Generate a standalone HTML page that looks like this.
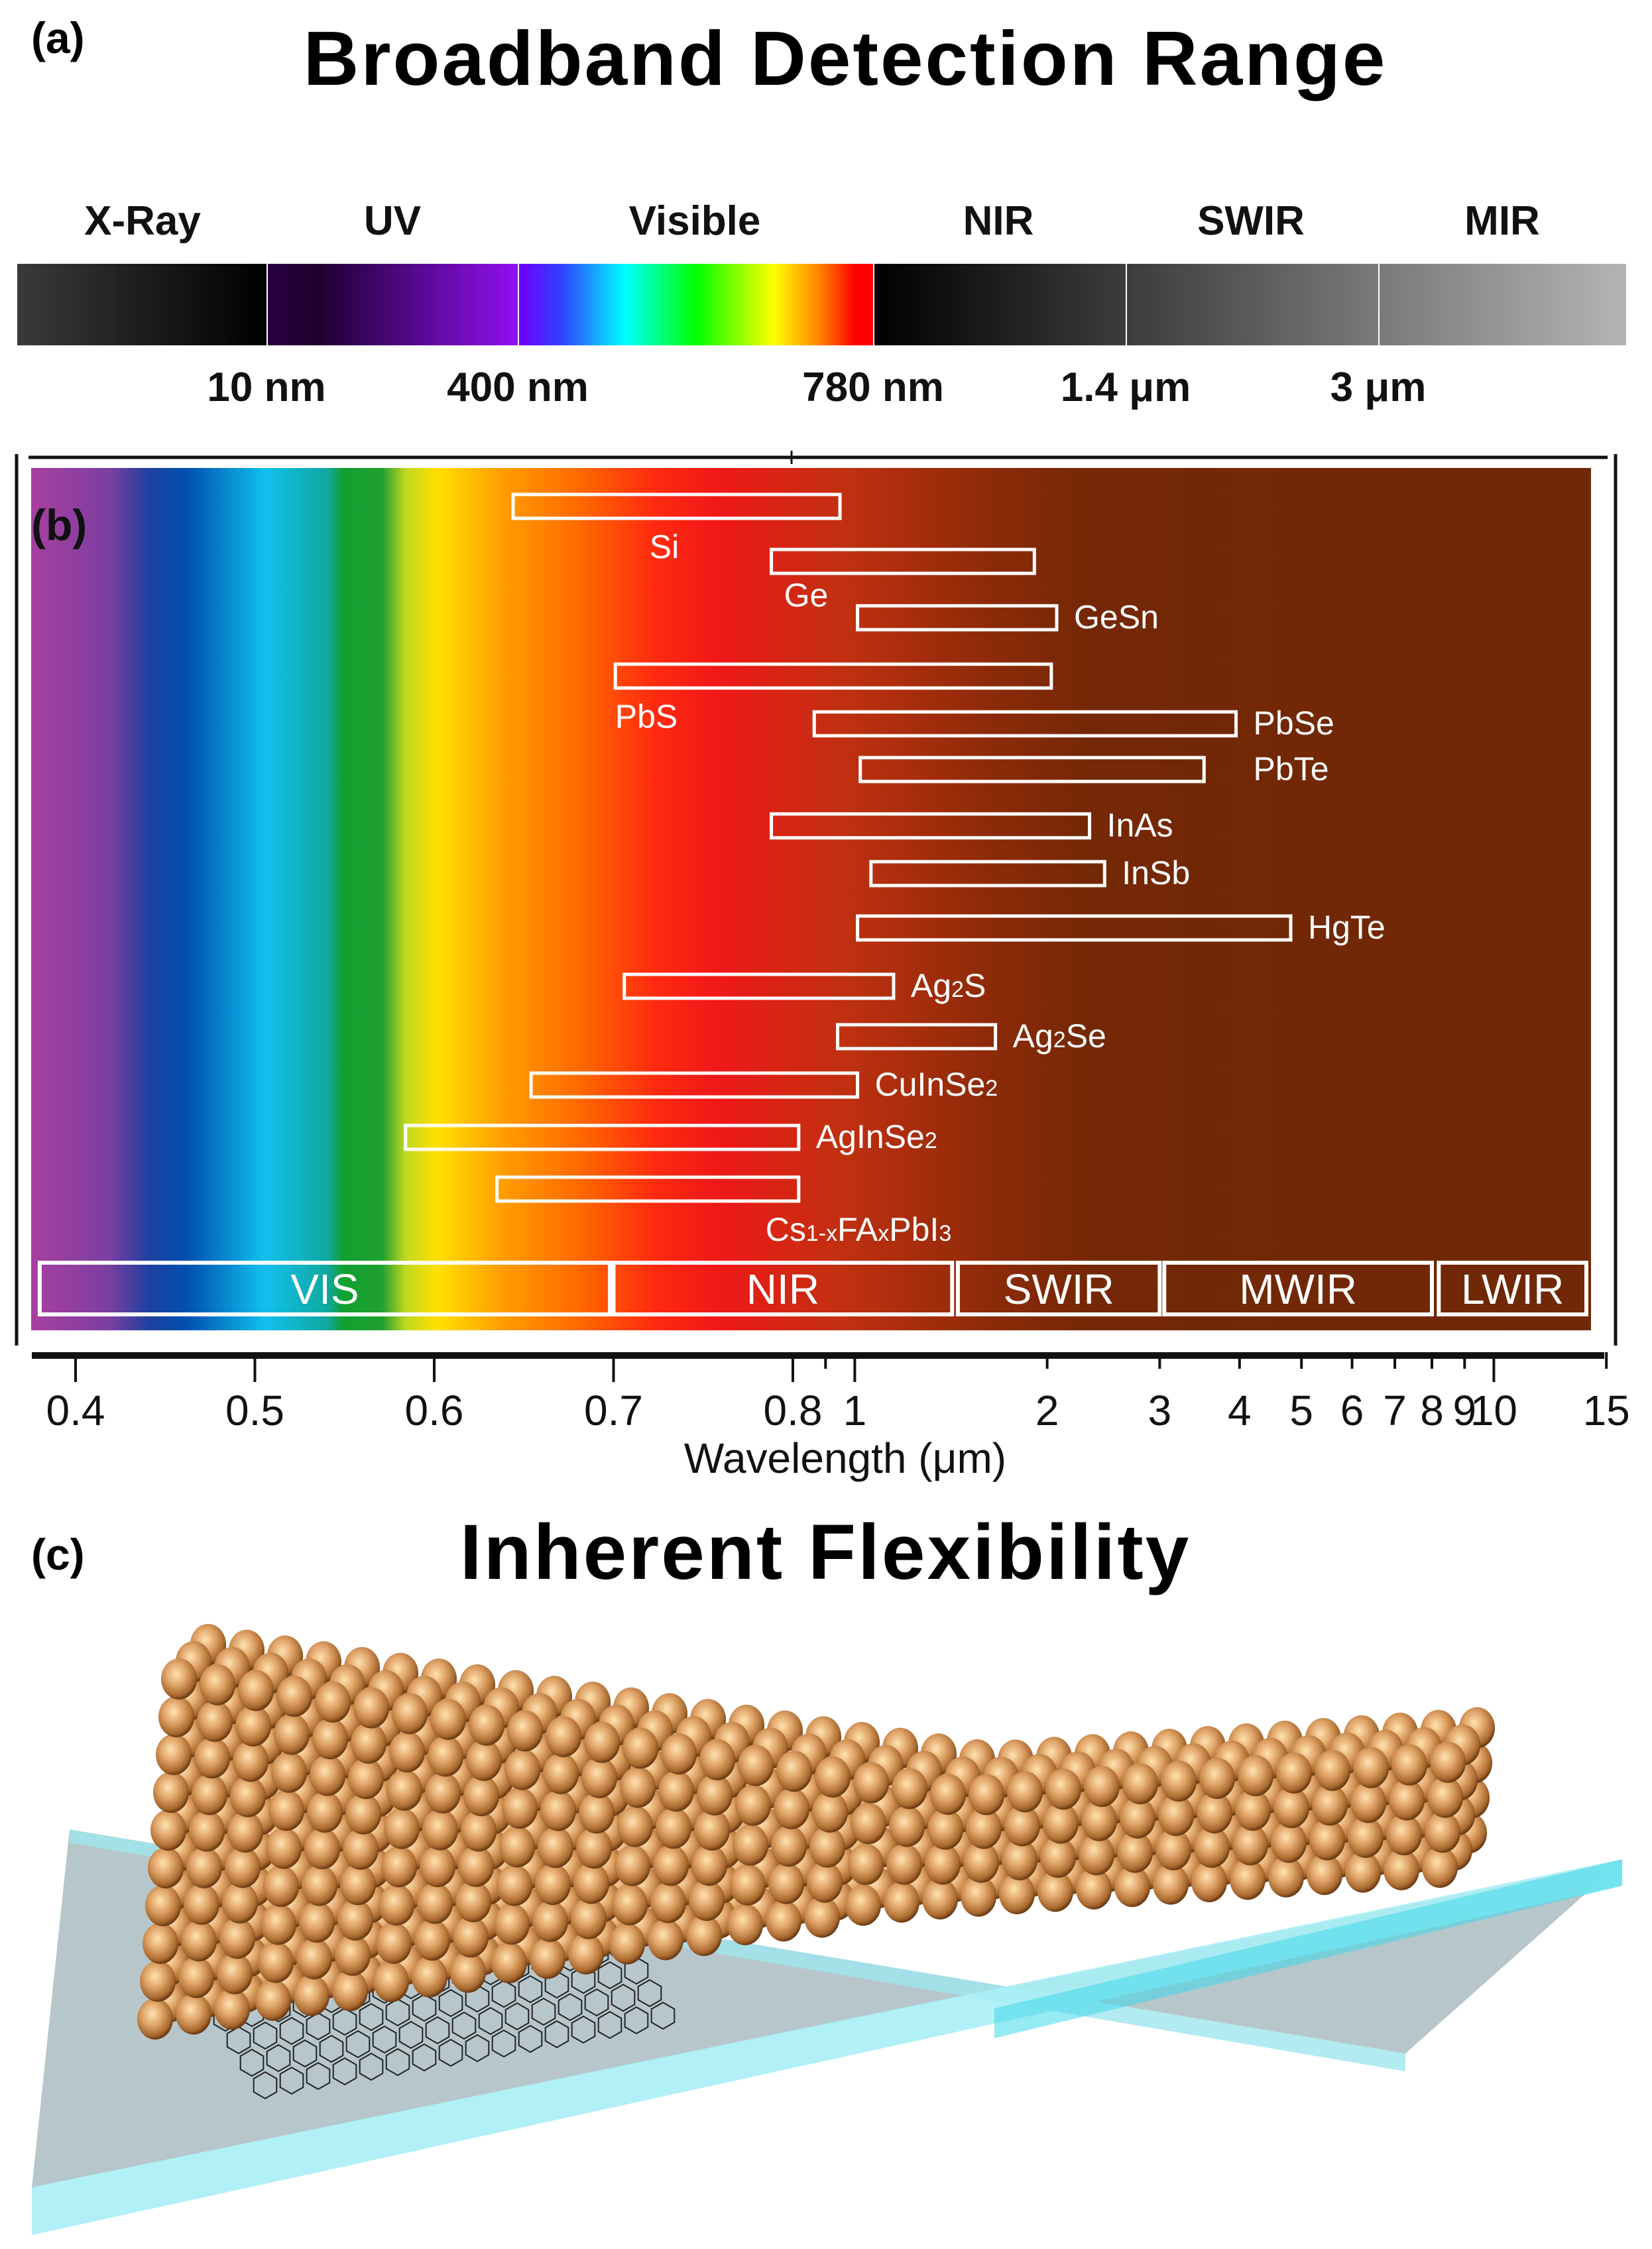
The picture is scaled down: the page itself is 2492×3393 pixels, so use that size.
<!DOCTYPE html>
<html><head><meta charset="utf-8">
<style>
body{margin:0;background:#fff;}
svg{display:block;font-family:"Liberation Sans","DejaVu Sans",sans-serif;}
</style></head>
<body>
<svg id="fig" width="2492" height="3393" viewBox="0 0 2492 3393" xmlns="http://www.w3.org/2000/svg">
<defs>
<linearGradient id="xray" x1="0" x2="1"><stop offset="0" stop-color="#3a3a3a"/><stop offset="1" stop-color="#000"/></linearGradient>
<linearGradient id="uv" x1="0" x2="1"><stop offset="0" stop-color="#2a0040"/><stop offset="0.2" stop-color="#200030"/><stop offset="1" stop-color="#9010f0"/></linearGradient>
<linearGradient id="vis" x1="0" x2="1"><stop offset="0" stop-color="#7000ff"/><stop offset="0.12" stop-color="#3040ff"/><stop offset="0.3" stop-color="#00ffff"/><stop offset="0.5" stop-color="#00ff00"/><stop offset="0.72" stop-color="#ffff00"/><stop offset="0.85" stop-color="#ff8000"/><stop offset="0.95" stop-color="#ff0000"/><stop offset="1" stop-color="#ff0000"/></linearGradient>
<linearGradient id="nir" x1="0" x2="1"><stop offset="0" stop-color="#000"/><stop offset="1" stop-color="#3c3c3c"/></linearGradient>
<linearGradient id="swir" x1="0" x2="1"><stop offset="0" stop-color="#3c3c3c"/><stop offset="1" stop-color="#7a7a7a"/></linearGradient>
<linearGradient id="mir" x1="0" x2="1"><stop offset="0" stop-color="#7a7a7a"/><stop offset="1" stop-color="#b4b4b4"/></linearGradient>
<linearGradient id="spec" gradientUnits="userSpaceOnUse" x1="47" x2="2400" y1="0" y2="0">
<stop offset="0" stop-color="#a93fa0"/><stop offset="0.05" stop-color="#7a3fa0"/><stop offset="0.075" stop-color="#2040a0"/><stop offset="0.1" stop-color="#0050b0"/><stop offset="0.15" stop-color="#10c0ee"/><stop offset="0.19" stop-color="#10a8a0"/><stop offset="0.2" stop-color="#10a030"/><stop offset="0.225" stop-color="#20a030"/><stop offset="0.24" stop-color="#c0d820"/><stop offset="0.26" stop-color="#ffe000"/><stop offset="0.3" stop-color="#ffa000"/><stop offset="0.35" stop-color="#ff6a00"/><stop offset="0.4" stop-color="#ff2a10"/><stop offset="0.44" stop-color="#f01818"/><stop offset="0.52" stop-color="#c03010"/><stop offset="0.62" stop-color="#8a2a08"/><stop offset="0.68" stop-color="#742805"/><stop offset="1" stop-color="#702806"/></linearGradient>
<radialGradient id="ball" cx="0.42" cy="0.38" r="0.62"><stop offset="0" stop-color="#ffe2b0"/><stop offset="0.45" stop-color="#e0a468"/><stop offset="0.85" stop-color="#a8682e"/><stop offset="1" stop-color="#6a3a14"/></radialGradient>
</defs>

<!-- panel a -->
<text x="47" y="80" font-size="66" font-weight="bold">(a)</text>
<text x="1275" y="128" font-size="116" font-weight="bold" letter-spacing="3" text-anchor="middle">Broadband Detection Range</text>
<g>
<rect x="26" y="398" width="376" height="123" fill="url(#xray)"/>
<rect x="404" y="398" width="377" height="123" fill="url(#uv)"/>
<rect x="783" y="398" width="534" height="123" fill="url(#vis)"/>
<rect x="1319" y="398" width="379" height="123" fill="url(#nir)"/>
<rect x="1700" y="398" width="379" height="123" fill="url(#swir)"/>
<rect x="2081" y="398" width="372" height="123" fill="url(#mir)"/>
</g>
<g font-size="62" font-weight="bold" text-anchor="middle" fill="#111">
<text x="215" y="354">X-Ray</text>
<text x="592" y="354">UV</text>
<text x="1048" y="354">Visible</text>
<text x="1506" y="354">NIR</text>
<text x="1887" y="354">SWIR</text>
<text x="2266" y="354">MIR</text>
<text x="402" y="605">10 nm</text>
<text x="781" y="605">400 nm</text>
<text x="1317" y="605">780 nm</text>
<text x="1698" y="605">1.4 μm</text>
<text x="2079" y="605">3 μm</text>
</g>

<!-- panel b -->
<g stroke="#111" stroke-width="5" fill="none">
<line x1="43" y1="690" x2="2425" y2="690"/>
<line x1="1194" y1="680" x2="1194" y2="700" stroke-width="3"/>
<line x1="25" y1="685" x2="25" y2="2030"/>
<line x1="2437" y1="685" x2="2437" y2="2030"/>
</g>
<rect x="47" y="706" width="2353" height="1301" fill="url(#spec)"/>
<text x="47" y="815" font-size="66" font-weight="bold" fill="#111">(b)</text>
<g id="bars"></g>
<g id="bands"></g>
<g id="axis"></g>
<text x="1275" y="2222" font-size="64" text-anchor="middle" fill="#111">Wavelength (μm)</text>

<!-- panel c -->
<text x="47" y="2368" font-size="66" font-weight="bold">(c)</text>
<text x="1245" y="2382" font-size="118" font-weight="bold" letter-spacing="3" text-anchor="middle">Inherent Flexibility</text>
<g id="illus">
<polygon points="105,2760 2120,3098 2447,2808 48,3300" fill="#9fb3ba" opacity="0.75"/>
<polygon points="105,2760 2120,3098 2120,3125 105,2780" fill="#9fe6ef" opacity="0.8"/>
<polygon points="48,3300 2447,2805 2447,2845 48,3372" fill="#a8eef6" opacity="0.9"/>
</g>
</svg>
<script>
// ---- chart data ----
const materials=["Si","Ge","GeSn","PbS","PbSe","PbTe","InAs","InSb","HgTe","Ag2S","Ag2Se","CuInSe2","AgInSe2","Cs1-xFAxPbI3"];
const startUm=[0.644,0.788,1.01,0.701,0.864,1.02,0.788,1.06,1.01,0.706,0.94,0.654,0.584,0.635];
const endUm=[0.948,1.91,2.07,2.03,3.95,3.52,2.33,2.46,4.81,1.15,1.66,1.01,0.817,0.817];
const bandNames=["VIS","NIR","SWIR","MWIR","LWIR"];
const bandStart=[0.38,0.7,1.45,3.05,8.2];
const bandEnd=[0.698,1.42,3.0,8.0,14.5];
const tickValues=[0.4,0.5,0.6,0.7,0.8,1,2,3,4,5,6,7,8,9,10,15];
const tickLabels=["0.4","0.5","0.6","0.7","0.8","1","2","3","4","5","6","7","8","9","10","15"];
const minorTicks=[0.9];

const NS="http://www.w3.org/2000/svg";
function X(v){ // piecewise: linear 0.4-0.8, log above
  if(v<=0.8) return 114+(v-0.4)*2705;
  return 1196+Math.log10(v/0.8)*964;
}
function mk(tag,attrs,parent){const e=document.createElementNS(NS,tag);for(const k in attrs)e.setAttribute(k,attrs[k]);parent.appendChild(e);return e;}
const rowY=[746,829,914,1002,1074,1143,1228,1300,1382,1470,1546,1619,1698,1776];
const labelPos=["below","below","right","below","right","right","right","right","right","right","right","right","right","below"];
const belowX={0:1002,1:1216,3:975,13:1295};
const barsG=document.getElementById('bars');
materials.forEach((m,i)=>{
  const x1=X(startUm[i]),x2=X(endUm[i]),y=rowY[i];
  const r=mk('rect',{x:x1,y:y,width:x2-x1,height:36,fill:'none',stroke:'#fff','stroke-width':5},barsG);
  
  
  let tx,ty,anchor;
  if(labelPos[i]==='right'){tx=x2+26;ty=y+34;anchor='start';}
  else {tx=belowX[i];ty=y+(i===1?86:96);anchor='middle';}
  if(i===5) tx=X(endUm[4])+26;
  const t=mk('text',{x:tx,y:ty,'font-size':50,fill:'#fff','text-anchor':anchor},barsG);
  
  
  const sub={"Ag2S":["Ag","2","S"],"Ag2Se":["Ag","2","Se"],"CuInSe2":["CuInSe","2",""],"AgInSe2":["AgInSe","2",""]};
  if(sub[m]){
    const p=sub[m];
    t.appendChild(document.createTextNode(p[0]));
    const s=mk('tspan',{'font-size':34},t);s.textContent=p[1];
    if(p[2]){t.appendChild(document.createTextNode(p[2]));}
  } else if(m==="Cs1-xFAxPbI3"){
    t.appendChild(document.createTextNode("Cs"));
    let s=mk('tspan',{'font-size':34},t);s.textContent="1-x";
    t.appendChild(document.createTextNode("FA"));
    s=mk('tspan',{'font-size':34},t);s.textContent="x";
    t.appendChild(document.createTextNode("PbI"));
    s=mk('tspan',{'font-size':34},t);s.textContent="3";
  } else t.textContent=m;
});
const bandsG=document.getElementById('bands');
bandNames.forEach((b,i)=>{
  let x1=Math.max(X(bandStart[i]),54),x2=Math.min(X(bandEnd[i]),2393);
  const r=mk('rect',{x:x1,y:1905,width:x2-x1,height:78,fill:'none',stroke:'#fff','stroke-width':6},bandsG);
  
  
  const t=mk('text',{x:(x1+x2)/2,y:1967,'font-size':64,fill:'#fff','text-anchor':'middle'},bandsG);
  
  
  t.textContent=b;
});
const axisG=document.getElementById('axis');
const al=mk('line',{x1:48,y1:2045,x2:2420,y2:2045,stroke:'#111','stroke-width':10},axisG);


tickValues.forEach((v,i)=>{
  const x=X(v);
  const major=[0.4,0.5,0.6,0.7,0.8,1,10].includes(v);
  const l=mk('line',{x1:x,y1:2040,x2:x,y2:major?2085:2065,stroke:'#111','stroke-width':4},axisG);
  
  
  const t=mk('text',{x:x,y:2150,'font-size':64,fill:'#111','text-anchor':'middle'},axisG);
  
  
  t.textContent=tickLabels[i];
});
minorTicks.forEach(v=>{
  const l=mk('line',{x1:X(v),y1:2040,x2:X(v),y2:2065,stroke:'#111','stroke-width':4},axisG);
  
  
});

// ---- illustration spheres ----
const ill=document.getElementById('illus');
const hex=mk('g',{stroke:'#222','stroke-width':2,fill:'none'},ill);


for(let r=0;r<5;r++){for(let c=0;c<16;c++){
  const cx=320+c*40+r*20, cy=3010+r*34-c*7;
  let pts=[];for(let k=0;k<6;k++){const a=Math.PI/3*k+Math.PI/6;pts.push((cx+20*Math.cos(a)).toFixed(1)+','+(cy+20*Math.sin(a)).toFixed(1));}
  mk('polygon',{points:pts.join(' ')},hex);
}}
const balls=mk('g',{},ill);


function topY(x){ if(x<1450) return 2505+(x-270)*0.15; return 2682-(x-1450)*0.07; }
function botY(x){ if(x<1450) return 3075-(x-270)*0.16; return 2886-(x-1450)*0.06; }
for(let depth=2;depth>=0;depth--){
  for(let x=270;x<=2220;x+=58){
    const xx=x+depth*22, off=-depth*26;
    const n=Math.max(2,Math.round((botY(x)-topY(x))/56));
    for(let k=n-1;k>=0;k--){
      const y=topY(x)+k*(botY(x)-topY(x))/n+off+28;
      mk('ellipse',{cx:xx-k*4,cy:y,rx:27,ry:31,fill:'url(#ball)'},balls);
    }
  }
}
mk('polygon',{points:'1500,3030 2447,2805 2447,2845 1500,3075',fill:'#40d8ea',opacity:'0.55'},ill);
</script>
</body></html>
